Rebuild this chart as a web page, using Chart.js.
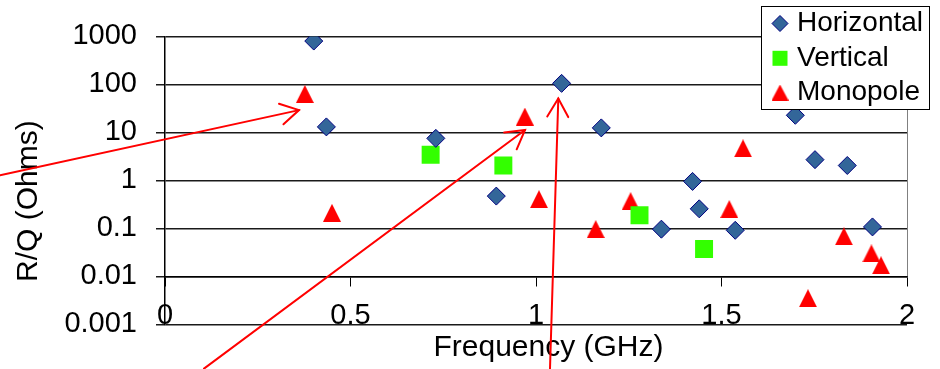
<!DOCTYPE html>
<html><head><meta charset="utf-8">
<script src="https://cdn.jsdelivr.net/npm/chart.js"></script>
<style>html,body{margin:0;padding:0;background:#fff}#wrap{width:940px;height:369px}</style>
</head><body><div id="wrap"><canvas id="c" width="940" height="369"></canvas></div>
<script>
// ---- data ----
const seriesNames = ['Horizontal', 'Vertical', 'Monopole'];
const horizontalX = [0.401, 0.435, 0.730, 0.893, 1.069, 1.176, 1.338, 1.422, 1.440, 1.537, 1.699, 1.752, 1.839, 1.907];
const horizontalY = [800, 13, 7.5, 0.47, 105, 12.4, 0.096, 0.95, 0.255, 0.091, 22.7, 2.7, 2.04, 0.107];
const verticalX = [0.716, 0.912, 1.279, 1.453];
const verticalY = [3.4, 2.04, 0.187, 0.037];
const monopoleX = [0.377, 0.450, 0.970, 1.008, 1.161, 1.255, 1.521, 1.558, 1.733, 1.830, 1.904, 1.930];
const monopoleY = [63, 0.21, 21.3, 0.405, 0.096, 0.368, 0.252, 4.64, 0.0035, 0.068, 0.030, 0.017];
const xTicks = [0, 0.5, 1, 1.5, 2];
const yTicks = [0.001, 0.01, 0.1, 1, 10, 100, 1000];
const xAxisCrossing = 0.01;
const xTitle = 'Frequency (GHz)';
const yTitle = 'R/Q (Ohms)';
// annotation arrows (data coordinates): tail -> head
const arrowTail = [[-0.4447, 1.28], [0.1051, 1.19e-4], [1.0377, 1.19e-4]];
const arrowHead = [[0.3612, 29.1], [0.9704, 11.2], [1.0601, 50.6]];

// ---- styling ----
Chart.defaults.font.family = '"Liberation Sans", Arial, sans-serif';
Chart.defaults.color = '#000';

function makeTriangle(w, h, color) {
  const c = document.createElement('canvas');
  c.width = w; c.height = h;
  const g = c.getContext('2d');
  g.fillStyle = color;
  g.beginPath(); g.moveTo(w / 2, 0); g.lineTo(w, h); g.lineTo(0, h); g.closePath(); g.fill();
  return c;
}
const triPlot = makeTriangle(18, 18, '#ff0000');
const triLegend = makeTriangle(17, 16, '#ff0000');

const toPts = (xs, ys) => xs.map((x, i) => ({ x: x, y: ys[i] }));

const decor = {
  id: 'decor',
  beforeDatasetsDraw(chart) {
    const { ctx, scales: { x, y } } = chart;
    ctx.save();
    ctx.strokeStyle = '#808080'; ctx.lineWidth = 1;
    const px = Math.floor(x.getPixelForValue(xTicks[xTicks.length - 1])) + 0.5;
    ctx.beginPath();
    ctx.moveTo(px, y.getPixelForValue(yTicks[yTicks.length - 1]));
    ctx.lineTo(px, y.getPixelForValue(xAxisCrossing));
    ctx.stroke();
    ctx.restore();
  },
  afterDraw(chart) {
    const { ctx, scales: { x, y } } = chart;
    // legend box
    ctx.save();
    ctx.fillStyle = '#fff';
    ctx.fillRect(761, 6, 168, 103);
    ctx.strokeStyle = '#000'; ctx.lineWidth = 1;
    ctx.strokeRect(761.5, 6.5, 168, 103);
    const rows = [23.5, 58.3, 92.5];
    const mx = 780;
    chart.data.datasets.forEach((ds, i) => {
      const cy = rows[i];
      if (ds.pointStyle === 'rectRot') {
        const r = 8;
        ctx.beginPath();
        ctx.moveTo(mx - r, cy); ctx.lineTo(mx, cy - r); ctx.lineTo(mx + r, cy); ctx.lineTo(mx, cy + r); ctx.closePath();
        ctx.fillStyle = ds.pointBackgroundColor; ctx.fill();
        ctx.strokeStyle = ds.pointBorderColor; ctx.lineWidth = 1; ctx.stroke();
      } else if (ds.pointStyle === 'rect') {
        ctx.fillStyle = ds.pointBackgroundColor;
        ctx.fillRect(mx - 7.5, cy - 7.5, 15, 15);
      } else {
        ctx.drawImage(triLegend, mx - triLegend.width / 2, cy - triLegend.height / 2);
      }
      ctx.fillStyle = '#000';
      ctx.font = '28px "Liberation Sans", Arial, sans-serif';
      ctx.textBaseline = 'middle'; ctx.textAlign = 'left';
      ctx.fillText(ds.label, 797, cy);
    });
    // arrows
    ctx.strokeStyle = '#ff0000'; ctx.lineWidth = 2; ctx.lineCap = 'round';
    arrowTail.forEach((t, i) => {
      const h = arrowHead[i];
      const x0 = x.getPixelForValue(t[0]), y0 = y.getPixelForValue(t[1]);
      const x1 = x.getPixelForValue(h[0]), y1 = y.getPixelForValue(h[1]);
      ctx.beginPath(); ctx.moveTo(x0, y0); ctx.lineTo(x1, y1); ctx.stroke();
      const ang = Math.atan2(y0 - y1, x0 - x1);
      const L = 21, a = Math.PI / 6;
      ctx.beginPath();
      ctx.moveTo(x1 + L * Math.cos(ang + a), y1 + L * Math.sin(ang + a));
      ctx.lineTo(x1, y1);
      ctx.lineTo(x1 + L * Math.cos(ang - a), y1 + L * Math.sin(ang - a));
      ctx.stroke();
    });
    ctx.restore();
  }
};

new Chart(document.getElementById('c'), {
  type: 'scatter',
  data: {
    datasets: [
      { label: seriesNames[0], data: toPts(horizontalX, horizontalY), pointStyle: 'rectRot',
        pointRadius: 9, pointHoverRadius: 9, pointBackgroundColor: '#336699', pointBorderColor: '#000080', pointBorderWidth: 1 },
      { label: seriesNames[1], data: toPts(verticalX, verticalY), pointStyle: 'rect',
        pointRadius: 12.7, pointHoverRadius: 12.7, pointBackgroundColor: '#33ff00', pointBorderColor: '#33ff00', pointBorderWidth: 0 },
      { label: seriesNames[2], data: toPts(monopoleX, monopoleY), pointStyle: triPlot,
        pointRadius: 9, pointHoverRadius: 9, pointBackgroundColor: '#ff0000', pointBorderColor: '#ff0000', pointBorderWidth: 0 }
    ]
  },
  options: {
    responsive: false,
    animation: false,
    events: [],
    layout: { padding: { left: 0, top: 34, right: 33, bottom: 0 } },
    scales: {
      x: {
        type: 'linear', min: 0, max: 2,
        position: { y: xAxisCrossing },
        afterFit(s) { s.height = 0; },
        afterBuildTicks(s) { s.ticks = xTicks.map(v => ({ value: v })); },
        ticks: { callback: v => String(v), font: { size: 29 }, color: '#000', padding: 13, maxRotation: 0, autoSkip: false },
        grid: { drawOnChartArea: false, drawTicks: true, tickLength: 9, color: '#000', lineWidth: 1 },
        border: { display: true, color: '#000', width: 1.5 }
      },
      y: {
        type: 'logarithmic', min: 0.001, max: 1000, position: 'left',
        afterFit(s) { s.width = 165; },
        afterBuildTicks(s) { s.ticks = yTicks.map(v => ({ value: v })); },
        ticks: { callback: v => String(v), font: { size: 29 }, color: '#000', padding: 19, autoSkip: false },
        grid: { color: '#1a1a1a', lineWidth: 1.5, tickLength: 9, drawTicks: true },
        border: { display: true, color: '#000', width: 1.5 },
        title: { display: true, text: yTitle + '     ', font: { size: 30 }, color: '#000', padding: { top: 11, bottom: 0 } }
      }
    },
    plugins: {
      legend: { display: false },
      tooltip: { enabled: false },
      title: { display: true, position: 'bottom', fullSize: false, text: '   ' + xTitle,
        font: { size: 30, weight: 'normal' }, color: '#000', padding: { top: 5, bottom: 3.7 } }
    }
  },
  plugins: [decor]
});
</script>
</body></html>
